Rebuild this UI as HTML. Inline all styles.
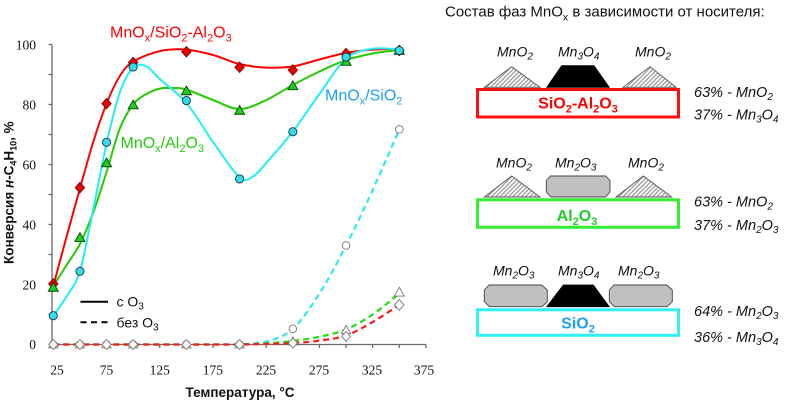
<!DOCTYPE html>
<html><head><meta charset="utf-8">
<style>
html,body{margin:0;padding:0;background:#fff;}
svg{display:block;}
text{font-family:"Liberation Sans",Arial,sans-serif;}
text.serif{font-family:"Liberation Serif","Times New Roman",serif;}
</style></head><body>
<svg id="s" width="800" height="401" viewBox="0 0 800 401" xmlns="http://www.w3.org/2000/svg">
<defs>
<pattern id="hatch" width="3" height="3" patternUnits="userSpaceOnUse" patternTransform="rotate(45)">
<rect width="3" height="3" fill="#fff"/><line x1="0.7" y1="0" x2="0.7" y2="3" stroke="#8a8a8a" stroke-width="1.1"/>
</pattern>
</defs>

<!-- axes -->
<g stroke="#6a6a6a" stroke-width="1.3" fill="none" id="axes">
<line x1="52" y1="45" x2="52" y2="344.5"/>
<line x1="52" y1="344.5" x2="426" y2="344.5"/>
</g>

<!-- y tick labels -->
<g font-size="13.5" fill="#111" text-anchor="end">
<text class="serif" style="font-family:'Liberation Serif',serif" x="36" y="49.5">100</text>
<text class="serif" style="font-family:'Liberation Serif',serif" x="36" y="109.5">80</text>
<text class="serif" style="font-family:'Liberation Serif',serif" x="36" y="169.5">60</text>
<text class="serif" style="font-family:'Liberation Serif',serif" x="36" y="229.5">40</text>
<text class="serif" style="font-family:'Liberation Serif',serif" x="36" y="289.5">20</text>
<text class="serif" style="font-family:'Liberation Serif',serif" x="36" y="349">0</text>
</g>
<!-- x tick labels -->
<g font-size="13.5" fill="#111" text-anchor="middle">
<text class="serif" style="font-family:'Liberation Serif',serif" x="57" y="374.5">25</text>
<text class="serif" style="font-family:'Liberation Serif',serif" x="106.5" y="374.5">75</text>
<text class="serif" style="font-family:'Liberation Serif',serif" x="159.7" y="374.5">125</text>
<text class="serif" style="font-family:'Liberation Serif',serif" x="212.9" y="374.5">175</text>
<text class="serif" style="font-family:'Liberation Serif',serif" x="266" y="374.5">225</text>
<text class="serif" style="font-family:'Liberation Serif',serif" x="319" y="374.5">275</text>
<text class="serif" style="font-family:'Liberation Serif',serif" x="372" y="374.5">325</text>
<text class="serif" style="font-family:'Liberation Serif',serif" x="424" y="374.5">375</text>
</g>

<text x="240" y="397" font-size="13.5" font-weight="bold" text-anchor="middle" fill="#111">Температура, °С</text>
<text transform="translate(13.5,264) rotate(-90)" font-size="13.5" font-weight="bold" fill="#111">Конверсия <tspan font-style="italic">н</tspan>-C<tspan font-size="9" dy="3">4</tspan><tspan dy="-3">H</tspan><tspan font-size="9" dy="3">10</tspan><tspan dy="-3">, %</tspan></text>

<!-- series labels -->
<text x="110" y="37.5" font-size="16" fill="#ff0000">MnO<tspan font-size="11" dy="4">x</tspan><tspan dy="-4">/SiO</tspan><tspan font-size="11" dy="4">2</tspan><tspan dy="-4">-Al</tspan><tspan font-size="11" dy="4">2</tspan><tspan dy="-4">O</tspan><tspan font-size="11" dy="4">3</tspan></text>
<text x="325" y="100.5" font-size="16" fill="#1ea0f5">MnO<tspan font-size="11" dy="4">x</tspan><tspan dy="-4">/SiO</tspan><tspan font-size="11" dy="4">2</tspan></text>
<text x="120.5" y="148" font-size="16" fill="#22cc11">MnO<tspan font-size="11" dy="4">x</tspan><tspan dy="-4">/Al</tspan><tspan font-size="11" dy="4">2</tspan><tspan dy="-4">O</tspan><tspan font-size="11" dy="4">3</tspan></text>

<!-- legend -->
<line x1="80.5" y1="301.7" x2="108" y2="301.7" stroke="#000" stroke-width="2"/>
<line x1="80.5" y1="322.3" x2="108" y2="322.3" stroke="#000" stroke-width="2" stroke-dasharray="6 4.5"/>
<text x="116.5" y="306.5" font-size="14" fill="#111">с O<tspan font-size="10" dy="3">3</tspan></text>
<text x="116.5" y="327.3" font-size="14" fill="#111">без O<tspan font-size="10" dy="3">3</tspan></text>

<g id="plot"></g>

<!-- right panel -->
<text x="445" y="16.5" font-size="15" fill="#111">Состав фаз MnO<tspan font-size="10.5" dy="4">x</tspan><tspan dy="-4"> в зависимости от носителя:</tspan></text>

<!-- block 1 -->
<g font-size="14" font-style="italic" fill="#111">
<text x="497" y="56.7">MnO<tspan font-size="10" dy="3">2</tspan></text>
<text x="558" y="56.7">Mn<tspan font-size="10" dy="3">3</tspan><tspan dy="-3">O</tspan><tspan font-size="10" dy="3">4</tspan></text>
<text x="635" y="56.7">MnO<tspan font-size="10" dy="3">2</tspan></text>
</g>
<polygon points="484.3,87.3 511.7,66.7 540,87.3" fill="url(#hatch)" stroke="#555" stroke-width="0.9"/>
<polygon points="546.7,87.3 561.7,65.7 594,65.7 609.3,87.3" fill="#000" stroke="#000" stroke-width="0.8"/>
<polygon points="623,87.3 650,66.7 676,87.3" fill="url(#hatch)" stroke="#555" stroke-width="0.9"/>
<rect x="477.5" y="89.5" width="201" height="27.5" fill="#fff" stroke="#ff1010" stroke-width="3"/>
<text x="578" y="108.5" font-size="16" font-weight="bold" fill="#ff0000" text-anchor="middle">SiO<tspan font-size="11" dy="4">2</tspan><tspan dy="-4">-Al</tspan><tspan font-size="11" dy="4">2</tspan><tspan dy="-4">O</tspan><tspan font-size="11" dy="4">3</tspan></text>
<g font-size="14.5" font-style="italic" fill="#111">
<text x="694" y="97">63% - MnO<tspan font-size="10" dy="3">2</tspan></text>
<text x="694" y="119.5">37% - Mn<tspan font-size="10" dy="3">3</tspan><tspan dy="-3">O</tspan><tspan font-size="10" dy="3">4</tspan></text>
</g>

<!-- block 2 -->
<g font-size="14" font-style="italic" fill="#111">
<text x="496" y="167.3">MnO<tspan font-size="10" dy="3">2</tspan></text>
<text x="555" y="167.3">Mn<tspan font-size="10" dy="3">2</tspan><tspan dy="-3">O</tspan><tspan font-size="10" dy="3">3</tspan></text>
<text x="628" y="167.3">MnO<tspan font-size="10" dy="3">2</tspan></text>
</g>
<polygon points="484.3,197 511.7,176 540,197" fill="url(#hatch)" stroke="#555" stroke-width="0.9"/>
<polygon points="550.5,176 605.7,176 610,180.5 610,192 605.5,197 551,197 546.3,192 546.3,180.5" fill="#c0c0c0" stroke="#444" stroke-width="0.9"/>
<polygon points="616,197 643.3,176 671.7,197" fill="url(#hatch)" stroke="#555" stroke-width="0.9"/>
<rect x="477.5" y="199.8" width="201" height="27.5" fill="#fff" stroke="#33ee33" stroke-width="3"/>
<text x="577" y="221" font-size="16" font-weight="bold" fill="#22cc22" text-anchor="middle">Al<tspan font-size="11" dy="4">2</tspan><tspan dy="-4">O</tspan><tspan font-size="11" dy="4">3</tspan></text>
<g font-size="14.5" font-style="italic" fill="#111">
<text x="694" y="206.7">63% - MnO<tspan font-size="10" dy="3">2</tspan></text>
<text x="694" y="230">37% - Mn<tspan font-size="10" dy="3">2</tspan><tspan dy="-3">O</tspan><tspan font-size="10" dy="3">3</tspan></text>
</g>

<!-- block 3 -->
<g font-size="14" font-style="italic" fill="#111">
<text x="493" y="275.7">Mn<tspan font-size="10" dy="3">2</tspan><tspan dy="-3">O</tspan><tspan font-size="10" dy="3">3</tspan></text>
<text x="558" y="275.7">Mn<tspan font-size="10" dy="3">3</tspan><tspan dy="-3">O</tspan><tspan font-size="10" dy="3">4</tspan></text>
<text x="618" y="275.7">Mn<tspan font-size="10" dy="3">2</tspan><tspan dy="-3">O</tspan><tspan font-size="10" dy="3">3</tspan></text>
</g>
<polygon points="489,285 541.7,285 547.3,290 547.3,301.7 542,306.7 489.5,306.7 484.3,301.7 484.3,290" fill="#c0c0c0" stroke="#444" stroke-width="0.9"/>
<polygon points="546.7,306.7 563.3,285 593.3,285 609.3,306.7" fill="#000" stroke="#000" stroke-width="0.8"/>
<polygon points="614,285 666.7,285 672.3,290 672.3,301.7 667,306.7 614.5,306.7 609.3,301.7 609.3,290" fill="#c0c0c0" stroke="#444" stroke-width="0.9"/>
<rect x="477.5" y="309.8" width="201" height="25.5" fill="#fff" stroke="#33f0f8" stroke-width="3"/>
<text x="578" y="328.5" font-size="16" font-weight="bold" fill="#1e9fff" text-anchor="middle">SiO<tspan font-size="11" dy="4">2</tspan></text>
<g font-size="14.5" font-style="italic" fill="#111">
<text x="694" y="316">64% - Mn<tspan font-size="10" dy="3">2</tspan><tspan dy="-3">O</tspan><tspan font-size="10" dy="3">3</tspan></text>
<text x="694" y="342">36% - Mn<tspan font-size="10" dy="3">3</tspan><tspan dy="-3">O</tspan><tspan font-size="10" dy="3">4</tspan></text>
</g>
</svg>
<script>
(function(){
var NS="http://www.w3.org/2000/svg";
var X=function(T){return 53.3+(T-25)*1.0646;}, Y=function(v){return 344.5-3*v;};
var axes=document.getElementById("axes"), plot=document.getElementById("plot");
function el(tag,attrs,parent){var e=document.createElementNS(NS,tag);for(var k in attrs)e.setAttribute(k,attrs[k]);(parent||plot).appendChild(e);return e;}
for(var v=0;v<=100;v+=10){el("line",{x1:48.5,y1:Y(v),x2:52,y2:Y(v)},axes);}
for(var T=25;T<=375;T+=25){var x=Math.min(X(T),426);el("line",{x1:x,y1:344.5,x2:x,y2:348},axes);}
function cr(data){
 var p=data.map(function(d){return [X(d[0]),Y(d[1])];});
 var s="M"+p[0][0].toFixed(2)+","+p[0][1].toFixed(2);
 for(var i=0;i<p.length-1;i++){
  var p0=p[i-1]||p[i],p1=p[i],p2=p[i+1],p3=p[i+2]||p2;
  var c1=[p1[0]+(p2[0]-p0[0])/6,p1[1]+(p2[1]-p0[1])/6];
  var c2=[p2[0]-(p3[0]-p1[0])/6,p2[1]-(p3[1]-p1[1])/6];
  s+="C"+c1[0].toFixed(2)+","+c1[1].toFixed(2)+" "+c2[0].toFixed(2)+","+c2[1].toFixed(2)+" "+p2[0].toFixed(2)+","+p2[1].toFixed(2);
 }
 return s;
}
var red=[[25,19.5],[37.5,36],[50,52],[62.5,67.5],[75,80.3],[87.5,89.5],[100,94.3],[125,97.8],[150,98.3],[175,96.5],[200,93.5],[225,92.3],[250,92.7],[275,95],[300,97.2],[325,98.3],[350,98.5]];
var green=[[25,19.5],[37.5,26.5],[50,33.5],[62.5,44],[75,57.5],[87.5,72],[100,80],[112.5,83.5],[125,85.3],[137.5,85.5],[150,85],[175,81.5],[200,78.5],[225,81.5],[250,86.5],[275,91],[300,94.8],[325,97],[350,98.2]];
var cyan=[[25,9.6],[37.5,16],[50,24.5],[62.5,45],[75,67],[87.5,84],[100,92.3],[112.5,92.7],[125,88.5],[150,80.5],[175,67.5],[200,55.7],[212.5,56],[225,60.5],[250,71],[275,83.5],[300,95.3],[325,98.6],[350,98.3]];
var cyanD=[[25,0],[100,0],[175,0],[200,0.1],[225,1],[250,5.2],[275,17],[300,33],[325,51.5],[350,71.7]];
var greenD=[[25,0],[100,0],[175,0],[200,0],[225,0.4],[250,1.2],[275,2.6],[300,5],[325,10],[350,17]];
var redD=[[25,0],[100,0],[175,0],[200,0],[225,0.2],[250,0.5],[275,1.3],[300,3],[325,7.5],[350,13.2]];
el("path",{d:cr(cyanD),fill:"none",stroke:"#2ee8f5","stroke-width":2.2,"stroke-dasharray":"6 4"});
el("path",{d:cr(greenD),fill:"none",stroke:"#22dd11","stroke-width":2.2,"stroke-dasharray":"6 4"});
el("path",{d:cr(redD),fill:"none",stroke:"#ff1a1a","stroke-width":2.2,"stroke-dasharray":"6 4"});
el("path",{d:cr(red),fill:"none",stroke:"#ff0000","stroke-width":2});
el("path",{d:cr(green),fill:"none",stroke:"#22cc00","stroke-width":2});
el("path",{d:cr(cyan),fill:"none",stroke:"#22eef5","stroke-width":2});
function diamond(T,v,fill,stroke,h){var x=X(T),y=Y(v);h=h||5;el("polygon",{points:[x,y-h,x+h*0.9,y,x,y+h,x-h*0.9,y].join(" "),fill:fill,stroke:stroke,"stroke-width":0.9});}
function tri(T,v,fill,stroke,s){var x=X(T),y=Y(v);s=s||4.6;el("polygon",{points:(x)+","+(y-s)+" "+(x+s)+","+(y+s*0.75)+" "+(x-s)+","+(y+s*0.75),fill:fill,stroke:stroke,"stroke-width":0.9});}
function circ(T,v,fill,stroke,r){el("circle",{cx:X(T),cy:Y(v),r:r||3.8,fill:fill,stroke:stroke,"stroke-width":0.9});}
var zeros=[25,50,75,100,150,200];
zeros.forEach(function(T){circ(T,0,"#fff","#777");tri(T,0,"#fff","#777");diamond(T,0,"#fff","#777");});
circ(250,5.2,"#fff","#777");circ(300,33,"#fff","#777");circ(350,71.7,"#fff","#777");
tri(250,1,"#fff","#777");tri(300,4.8,"#fff","#777");tri(350,17.4,"#fff","#777",5);
diamond(250,0.5,"#fff","#777");diamond(300,2.7,"#fff","#777");diamond(350,13.2,"#fff","#777",5.3);
[[25,20.2],[50,52.3],[75,80.3],[100,94],[150,97.6],[200,92.4],[250,91.5],[300,97],[350,98]].forEach(function(d){diamond(d[0],d[1],"#e80000","#7a0000",5.2);});
[[25,19],[50,35.6],[75,60.5],[100,79.8],[150,84.5],[200,78],[250,86.2],[300,94.3],[350,98]].forEach(function(d){tri(d[0],d[1],"#22cc22","#004400",5);});
[[25,9.6],[50,24.4],[75,67.4],[100,92.5],[150,81.3],[200,55.2],[250,70.9],[300,95.8],[350,98]].forEach(function(d){circ(d[0],d[1],"#33dde8","#1a3344",4.1);});
})();
</script>
</body></html>
